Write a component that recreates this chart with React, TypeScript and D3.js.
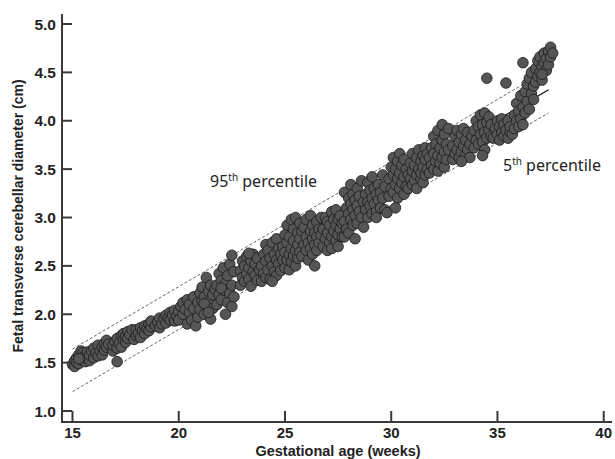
import React from 'react';
import * as d3 from 'd3';

// Gestational age (weeks) vs TCD (cm), grouped by week
const wk15: [number, number][] = [[15.0,1.48],[15.1,1.52],[15.1,1.46],[15.2,1.55],[15.2,1.50],[15.3,1.58],[15.3,1.49],[15.4,1.62],[15.4,1.53],[15.5,1.56],[15.5,1.60],[15.6,1.51],[15.6,1.57],[15.7,1.54],[15.7,1.61],[15.3,1.54]];
const wk16: [number, number][] = [[15.8,1.52],[15.8,1.58],[15.9,1.62],[16.0,1.55],[16.0,1.65],[16.1,1.60],[16.2,1.57],[16.2,1.68],[16.3,1.62],[16.4,1.66],[16.4,1.58],[16.5,1.70],[16.5,1.63],[16.6,1.73],[16.6,1.66],[16.7,1.69]];
const wk17: [number, number][] = [[16.9,1.62],[16.9,1.68],[17.0,1.72],[17.1,1.51],[17.1,1.65],[17.1,1.75],[17.2,1.70],[17.3,1.78],[17.3,1.66],[17.4,1.74],[17.4,1.80],[17.5,1.71],[17.5,1.77],[17.6,1.82],[17.6,1.75],[17.7,1.79],[17.8,1.84]];
const wk18: [number, number][] = [[17.9,1.74],[18.0,1.78],[18.0,1.84],[18.1,1.80],[18.2,1.86],[18.2,1.76],[18.3,1.83],[18.4,1.88],[18.4,1.80],[18.5,1.85],[18.6,1.90],[18.6,1.83],[18.7,1.87],[18.7,1.93]];
const wk19: [number, number][] = [[18.9,1.88],[19.0,1.92],[19.1,1.86],[19.1,1.96],[19.2,1.90],[19.3,1.95],[19.4,1.99],[19.4,1.91],[19.5,1.96],[19.6,2.02],[19.6,1.94],[19.7,1.99],[19.8,2.04],[19.8,1.93]];
const wk20: [number, number][] = [[19.9,1.98],[20.0,2.03],[20.0,1.94],[20.1,2.08],[20.2,2.00],[20.2,2.12],[20.3,2.05],[20.4,1.90],[20.4,2.15],[20.5,2.02],[20.5,2.10],[20.6,1.94],[20.7,2.18],[20.7,2.06],[20.8,1.88],[20.9,2.12]];
const wk21: [number, number][] = [[20.9,1.97],[21.0,2.22],[21.0,2.05],[21.1,2.14],[21.1,2.28],[21.2,2.00],[21.2,2.18],[21.3,2.38],[21.3,2.09],[21.4,2.24],[21.4,2.13],[21.5,2.30],[21.5,1.95],[21.6,2.20],[21.6,2.06],[21.7,2.26],[21.2,2.11],[21.4,2.02]];
const wk22: [number, number][] = [[21.8,2.10],[21.8,2.30],[21.9,2.20],[21.9,2.42],[22.0,2.15],[22.0,2.35],[22.1,2.25],[22.1,2.48],[22.2,2.00],[22.2,2.32],[22.3,2.12],[22.3,2.40],[22.4,2.22],[22.4,2.52],[22.5,2.61],[22.5,2.30],[22.5,2.08],[22.6,2.44],[22.6,2.18],[22.0,2.27]];
const wk23: [number, number][] = [[22.9,2.30],[22.9,2.45],[23.0,2.38],[23.0,2.55],[23.1,2.34],[23.1,2.50],[23.2,2.42],[23.2,2.60],[23.3,2.36],[23.3,2.48],[23.4,2.55],[23.4,2.29],[23.5,2.44],[23.5,2.62],[23.6,2.40],[23.6,2.52],[23.7,2.35],[23.7,2.58],[23.8,2.46],[23.3,2.63]];
const wk24: [number, number][] = [[23.9,2.34],[23.9,2.50],[24.0,2.42],[24.0,2.62],[24.1,2.38],[24.1,2.55],[24.1,2.72],[24.2,2.46],[24.2,2.66],[24.3,2.36],[24.3,2.58],[24.4,2.50],[24.4,2.74],[24.5,2.44],[24.5,2.62],[24.6,2.40],[24.6,2.56],[24.6,2.78],[24.7,2.52],[24.7,2.68],[24.8,2.45],[24.8,2.62],[24.9,2.56],[24.4,2.34]];
const wk25: [number, number][] = [[24.9,2.70],[25.0,2.48],[25.0,2.64],[25.0,2.82],[25.1,2.56],[25.1,2.74],[25.1,2.92],[25.2,2.46],[25.2,2.62],[25.2,2.80],[25.3,2.68],[25.3,2.98],[25.3,2.54],[25.4,2.76],[25.4,2.60],[25.4,2.88],[25.5,2.66],[25.5,2.50],[25.5,3.00],[25.6,2.72],[25.6,2.84],[25.6,2.58],[25.7,2.78],[25.7,2.94],[25.7,2.64],[25.8,2.86]];
const wk26: [number, number][] = [[25.8,2.60],[25.9,2.72],[25.9,2.90],[26.0,2.66],[26.0,2.80],[26.0,2.98],[26.1,2.56],[26.1,2.74],[26.2,2.86],[26.2,2.68],[26.2,3.02],[26.3,2.78],[26.3,2.62],[26.3,2.92],[26.4,2.50],[26.4,2.84],[26.4,2.72],[26.5,2.96],[26.5,2.66],[26.5,2.80],[26.6,2.88],[26.6,2.74],[26.7,3.00],[26.7,2.82]];
const wk27: [number, number][] = [[26.8,2.70],[26.8,2.88],[26.9,2.78],[26.9,3.00],[27.0,2.66],[27.0,2.84],[27.0,2.96],[27.1,2.74],[27.1,2.92],[27.2,2.80],[27.2,3.06],[27.2,2.68],[27.3,2.86],[27.3,2.98],[27.4,2.76],[27.4,2.92],[27.4,3.08],[27.5,2.82],[27.5,2.70],[27.5,2.98],[27.6,2.88],[27.6,3.02],[27.7,2.80],[27.7,2.94]];
const wk28: [number, number][] = [[27.8,2.80],[27.8,2.96],[27.8,3.26],[27.9,3.10],[27.9,2.88],[28.0,3.04],[28.0,3.20],[28.0,2.84],[28.1,2.98],[28.1,3.14],[28.1,3.34],[28.2,2.92],[28.2,3.08],[28.2,3.24],[28.3,3.02],[28.3,3.18],[28.3,2.78],[28.4,3.12],[28.4,3.30],[28.4,2.94],[28.5,3.06],[28.5,3.22],[28.6,3.00],[28.6,3.38],[28.7,3.16],[28.7,2.90]];
const wk29: [number, number][] = [[28.8,3.08],[28.8,3.24],[28.9,3.00],[28.9,3.16],[28.9,3.36],[29.0,3.12],[29.0,3.28],[29.1,3.04],[29.1,3.20],[29.1,3.42],[29.2,3.14],[29.2,3.30],[29.3,3.06],[29.3,3.24],[29.3,3.00],[29.4,3.18],[29.4,3.34],[29.5,3.10],[29.5,3.26],[29.6,3.44],[29.6,3.20],[29.7,3.32],[29.7,3.08],[29.8,3.05]];
const wk30: [number, number][] = [[29.9,3.22],[29.9,3.40],[30.0,3.30],[30.0,3.52],[30.1,3.26],[30.1,3.44],[30.1,3.62],[30.2,3.34],[30.2,3.50],[30.3,3.20],[30.3,3.40],[30.3,3.58],[30.4,3.30],[30.4,3.46],[30.4,3.66],[30.5,3.36],[30.5,3.54],[30.6,3.24],[30.6,3.42],[30.6,3.60],[30.7,3.32],[30.7,3.50],[30.8,3.44],[30.2,3.10]];
const wk31: [number, number][] = [[30.8,3.30],[30.9,3.40],[30.9,3.56],[31.0,3.34],[31.0,3.48],[31.0,3.66],[31.1,3.38],[31.1,3.54],[31.2,3.44],[31.2,3.62],[31.2,3.30],[31.3,3.50],[31.3,3.70],[31.4,3.40],[31.4,3.58],[31.4,3.46],[31.5,3.64],[31.5,3.36],[31.5,3.52],[31.6,3.72],[31.6,3.44],[31.6,3.60],[31.7,3.50],[31.7,3.66]];
const wk32: [number, number][] = [[31.8,3.46],[31.8,3.62],[31.9,3.54],[31.9,3.72],[32.0,3.50],[32.0,3.66],[32.0,3.84],[32.1,3.58],[32.1,3.76],[32.2,3.48],[32.2,3.64],[32.2,3.90],[32.3,3.56],[32.3,3.72],[32.4,3.62],[32.4,3.80],[32.4,3.96],[32.5,3.52],[32.5,3.68],[32.5,3.86],[32.6,3.60],[32.6,3.76],[32.7,3.70],[32.7,3.92]];
const wk33: [number, number][] = [[32.9,3.60],[32.9,3.74],[33.0,3.66],[33.0,3.84],[33.1,3.70],[33.1,3.90],[33.2,3.62],[33.2,3.78],[33.3,3.68],[33.3,3.86],[33.4,3.74],[33.4,3.92],[33.5,3.64],[33.5,3.80],[33.6,3.70],[33.6,3.88],[33.7,3.76],[33.7,3.62],[33.8,3.84],[33.3,3.58]];
const wk34: [number, number][] = [[33.9,3.72],[33.9,3.90],[34.0,3.80],[34.0,4.00],[34.1,3.76],[34.1,3.94],[34.2,3.86],[34.2,4.06],[34.3,3.78],[34.3,3.96],[34.4,3.70],[34.4,3.88],[34.4,4.08],[34.5,3.82],[34.5,3.98],[34.5,4.44],[34.6,3.90],[34.6,4.04],[34.7,3.84],[34.3,3.64],[34.7,3.96]];
const wk35: [number, number][] = [[34.8,3.82],[34.9,3.92],[35.0,3.86],[35.0,4.00],[35.1,3.80],[35.1,3.94],[35.2,3.88],[35.2,4.02],[35.3,3.84],[35.3,3.96],[35.4,4.39],[35.4,3.90],[35.5,3.82],[35.5,4.00],[35.6,3.88],[35.6,3.94],[35.7,3.86]];
const wk36: [number, number][] = [[35.8,3.92],[35.8,4.06],[35.9,4.00],[35.9,4.18],[36.0,3.94],[36.0,4.10],[36.1,4.26],[36.1,4.02],[36.2,4.60],[36.2,4.14],[36.2,3.96],[36.3,4.30],[36.3,4.08],[36.4,4.20],[36.4,4.38],[36.5,4.12],[36.5,4.44],[36.6,4.28],[36.6,4.50],[36.7,4.22],[36.7,4.36]];
const wk37: [number, number][] = [[36.8,4.40],[36.8,4.54],[36.9,4.46],[36.9,4.62],[37.0,4.50],[37.0,4.66],[37.1,4.56],[37.1,4.42],[37.2,4.60],[37.2,4.70],[37.3,4.52],[37.3,4.64],[37.4,4.58],[37.4,4.72],[37.5,4.66],[37.5,4.76],[37.6,4.70],[37.1,4.48]];

// fitted mean and percentile lines, endpoints [ga, tcd]
const meanLine: [number, number][] = [[15, 1.42], [37.4, 4.32]];
const p95Line: [number, number][] = [[15, 1.64], [37.4, 4.53]];
const p5Line: [number, number][] = [[15, 1.2], [37.4, 4.08]];

const xTicks = [15, 20, 25, 30, 35, 40];
const yTicks = [1.0, 1.5, 2.0, 2.5, 3.0, 3.5, 4.0, 4.5, 5.0];

const allPoints = [
  ...wk15, ...wk16, ...wk17, ...wk18, ...wk19, ...wk20, ...wk21, ...wk22,
  ...wk23, ...wk24, ...wk25, ...wk26, ...wk27, ...wk28, ...wk29, ...wk30,
  ...wk31, ...wk32, ...wk33, ...wk34, ...wk35, ...wk36, ...wk37,
];

const W = 615;
const H = 459;
const axisX = 62;
const axisY = 422;

export default function App() {
  const x = d3.scaleLinear().domain([15, 40]).range([72.5, 603.7]);
  const y = d3.scaleLinear().domain([1, 5]).range([411, 24]);
  const line = d3.line<[number, number]>().x(d => x(d[0])).y(d => y(d[1]));

  const axisColor = '#3a3a3a';
  const labelFont = '"Liberation Sans", Arial, sans-serif';
  const noteFont = '"Noto Sans", "Open Sans", sans-serif';

  return (
    <svg width={W} height={H} style={{ position: 'absolute', left: 0, top: 0, background: '#fff' }}>
      {/* axes */}
      <line x1={axisX} x2={axisX} y1={14} y2={axisY + 1} stroke={axisColor} strokeWidth={2} />
      <line x1={axisX - 1} x2={612} y1={axisY} y2={axisY} stroke={axisColor} strokeWidth={2} />

      {yTicks.map(t => (
        <g key={'y' + t}>
          <line x1={axisX} x2={axisX + 10} y1={y(t)} y2={y(t)} stroke={axisColor} strokeWidth={2} />
          <text x={56} y={y(t) + 5.5} textAnchor="end" fontFamily={labelFont} fontWeight="bold" fontSize={15.5} fill="#222">
            {t.toFixed(1)}
          </text>
        </g>
      ))}
      {xTicks.map(t => (
        <g key={'x' + t}>
          <line x1={x(t)} x2={x(t)} y1={axisY} y2={axisY - 11} stroke={axisColor} strokeWidth={2} />
          <text x={x(t)} y={438} textAnchor="middle" fontFamily={labelFont} fontWeight="bold" fontSize={15} fill="#222">
            {t}
          </text>
        </g>
      ))}

      <text x={338} y={456} textAnchor="middle" fontFamily={labelFont} fontWeight="bold" fontSize={14.5} fill="#222">
        Gestational age (weeks)
      </text>
      <text
        transform={`translate(23, 216) rotate(-90)`}
        textAnchor="middle"
        fontFamily={labelFont}
        fontWeight="bold"
        fontSize={14}
        fill="#222"
      >
        Fetal transverse cerebellar diameter (cm)
      </text>

      {/* reference lines */}
      <path d={line(p95Line) || ''} fill="none" stroke="#555" strokeWidth={0.9} strokeDasharray="3,2" />
      <path d={line(p5Line) || ''} fill="none" stroke="#555" strokeWidth={0.9} strokeDasharray="3,2" />
      <path d={line(meanLine) || ''} fill="none" stroke="#111" strokeWidth={1.3} />

      {/* data points */}
      {allPoints.map((d, i) => (
        <circle key={i} cx={x(d[0])} cy={y(d[1])} r={5.3} fill="#555" stroke="#1a1a1a" strokeWidth={0.8} />
      ))}

      {/* annotations */}
      <text x={210} y={187} fontFamily={noteFont} fontSize={16} fill="#222">
        95<tspan fontSize={10} dy={-6}>th</tspan>
        <tspan dy={6}> percentile</tspan>
      </text>
      <text x={503} y={171} fontFamily={noteFont} fontSize={16} fill="#222">
        5<tspan fontSize={10} dy={-6}>th</tspan>
        <tspan dy={6}> percentile</tspan>
      </text>
    </svg>
  );
}
